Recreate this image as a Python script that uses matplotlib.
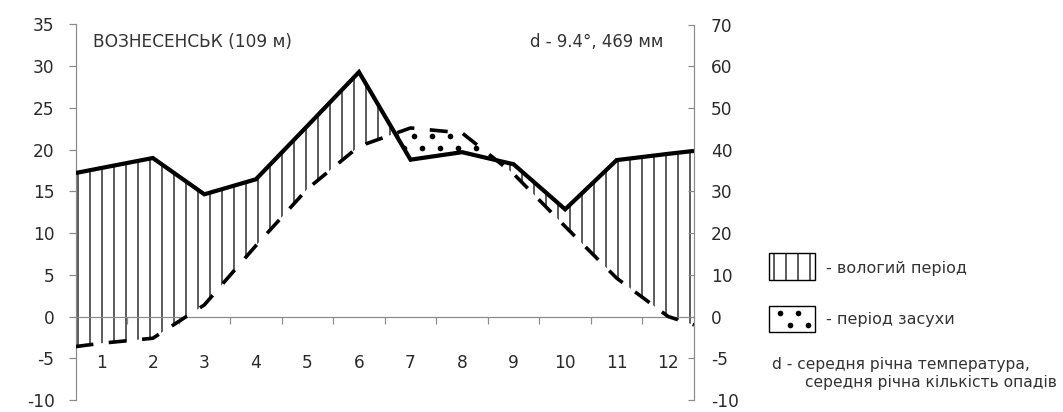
import numpy as np
import matplotlib
matplotlib.use("Agg")
import matplotlib.pyplot as plt
from matplotlib.patches import Rectangle
from matplotlib.path import Path
from matplotlib.transforms import IdentityTransform

# Monthly climate normals (Walter-Lieth diagram)
months = np.arange(1, 13)
month_labels = [str(m) for m in months]
temperature = [-3.2, -2.6, 1.4, 8.5, 15.3, 20.4, 22.6, 22.0, 17.1, 10.8, 4.6, 0.0]      # °C
precipitation = [35.6, 38.0, 29.3, 32.9, 45.7, 58.6, 37.6, 39.4, 36.5, 25.7, 37.5, 39.0]  # mm
# values at the start / end of the year, so the curves reach the frame
temperature_edges = [-3.6, -1.0]
precipitation_edges = [34.4, 39.7]

station = "ВОЗНЕСЕНСЬК (109 м)"
summary = "d - 9.4°, 469 мм"
wet_label = "- вологий період"
dry_label = "- період засухи"
note_lines = ["d - середня річна температура,", "середня річна кількість опадів"]

temp_ticks = list(range(-10, 36, 5))
precip_ticks = [-20, -10, 0, 10, 20, 30, 40, 50, 60, 70]
precip_tick_labels = ["-10", "-5", "0", "10", "20", "30", "40", "50", "60", "70"]

MM_PER_DEGREE = 2  # 1 °C on the left scale corresponds to 2 mm on the right

W, H, DPI = 1063, 412, 72
GRAY = "#8a8a8a"
TEXT = "#2a2a2a"
LABEL = "#333333"
DOT_SIZE = 32

plt.rcParams["font.family"] = ["DejaVu Sans"]
plt.rcParams["axes.unicode_minus"] = False
plt.rcParams["hatch.linewidth"] = 1.25


def fx(px):
    return px / W


def fy(py):
    return 1 - py / H


def dot_grid(x0, y0, x1, y1, dx=18.0, dy=12.0, shift=10.0):
    """Staggered dot pattern (pixel coords, y down) -> display coords."""
    pts = []
    for i, yy in enumerate(np.arange(y0, y1, dy)):
        start = x0 + (shift if i % 2 else 0.0)
        for xx in np.arange(start, x1, dx):
            pts.append((xx, H - yy))
    return np.array(pts)


fig = plt.figure(figsize=(W / DPI, H / DPI), dpi=DPI)
left_px, right_px, top_px, bottom_px = 75.5, 694.0, 24.5, 400.0
ax = fig.add_axes([fx(left_px), fy(bottom_px), fx(right_px - left_px), (bottom_px - top_px) / H])
ax2 = ax.twinx()

x = np.concatenate([[0.5], months, [12.5]])
t = np.concatenate([[temperature_edges[0]], temperature, [temperature_edges[1]]])
p = np.concatenate([[precipitation_edges[0]], precipitation, [precipitation_edges[1]]])
p_deg = p / MM_PER_DEGREE

ax.set_xlim(0.5, 12.5)
ax.set_ylim(-10, 35)
ax2.set_ylim(-20, 70)

# humid period: precipitation curve above temperature curve
ax.fill_between(x, p_deg, t, where=p_deg >= t, interpolate=True,
                facecolor="none", edgecolor="black", hatch="|", linewidth=0, zorder=2)
# arid period: temperature curve above precipitation curve, dotted
dry = ax.fill_between(x, t, p_deg, where=t > p_deg, interpolate=True,
                      facecolor="none", linewidth=0, zorder=2)
dry_path = Path.make_compound_path(*dry.get_paths())
pts = dot_grid(left_px + 4, top_px + 3, right_px, bottom_px)
dots = ax.scatter(pts[:, 0], pts[:, 1], s=DOT_SIZE, color="black", linewidths=0,
                  transform=IdentityTransform(), zorder=3)
dots.set_clip_path(dry_path, ax.transData)

ax.plot(x, t, color="black", lw=3.6, dashes=(5, 4.3), dash_capstyle="butt", zorder=4)
ax2.plot(x, p, color="black", lw=4.2, solid_joinstyle="miter", solid_capstyle="butt", zorder=5)

for s in ["top", "right"]:
    ax.spines[s].set_visible(False)
ax.spines["bottom"].set_position(("data", 0))
for s in ["left", "bottom"]:
    ax.spines[s].set_color(GRAY)
    ax.spines[s].set_linewidth(1.2)
for s in ["top", "left", "bottom"]:
    ax2.spines[s].set_visible(False)
ax2.spines["right"].set_color(GRAY)
ax2.spines["right"].set_linewidth(1.2)

ax.set_yticks(temp_ticks)
ax.tick_params(axis="y", direction="out", length=7, width=1.2, color=GRAY,
               labelsize=17, labelcolor=TEXT, pad=14)

ax.set_xticks(np.arange(1.5, 12.5, 1), labels=[""] * 11)
ax.set_xticks(months, labels=month_labels, minor=True)
ax.tick_params(axis="x", which="major", direction="out", length=7, width=1.2, color=GRAY)
ax.tick_params(axis="x", which="minor", length=0, labelsize=17, labelcolor=TEXT, pad=37)

ax2.set_yticks(precip_ticks, labels=precip_tick_labels)
ax2.tick_params(axis="y", direction="in", length=6, width=1.2, color=GRAY,
                labelsize=17, labelcolor=TEXT, pad=17)

# headings inside the plot
fig.text(fx(93), fy(42), station, ha="left", va="center", fontsize=17, color=LABEL)
fig.text(fx(663), fy(42), summary, ha="right", va="center", fontsize=16.5, color=LABEL)

# legend swatches
fig.add_artist(Rectangle((fx(769), fy(280)), fx(46), 27 / H, transform=fig.transFigure,
                         facecolor="none", edgecolor="black", lw=1.4, hatch="|"))
fig.add_artist(Rectangle((fx(769), fy(332)), fx(46), 26 / H, transform=fig.transFigure,
                         facecolor="none", edgecolor="black", lw=1.4))
legend_pts = dot_grid(780, 313, 812, 330)
ax2.scatter(legend_pts[:, 0], legend_pts[:, 1], s=DOT_SIZE, color="black", linewidths=0,
            transform=IdentityTransform(), clip_on=False, zorder=6)

fig.text(fx(826), fy(268), wet_label, ha="left", va="center", fontsize=16, color=LABEL)
fig.text(fx(826), fy(319), dry_label, ha="left", va="center", fontsize=16, color=LABEL)
fig.text(fx(772), fy(364), note_lines[0], ha="left", va="center", fontsize=15.5, color=LABEL)
fig.text(fx(805), fy(382), note_lines[1], ha="left", va="center", fontsize=15.5, color=LABEL)

fig.savefig("out.png", dpi=DPI, facecolor="white")
